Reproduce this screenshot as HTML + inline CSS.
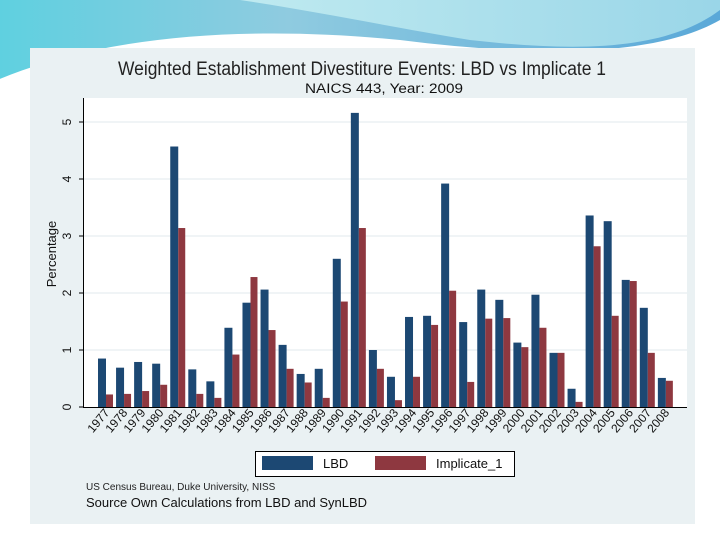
<!DOCTYPE html>
<html><head><meta charset="utf-8"><style>
body{margin:0;width:720px;height:540px;overflow:hidden;background:#fff;font-family:"Liberation Sans",sans-serif}
</style></head><body>
<svg width="720" height="540" xmlns="http://www.w3.org/2000/svg">
<defs>
<linearGradient id="sw" x1="0" y1="0" x2="1" y2="0"><stop offset="0" stop-color="#5fd0e0"/><stop offset="0.4" stop-color="#8fcbe0"/><stop offset="1" stop-color="#5aa8d8"/></linearGradient>
<linearGradient id="sw2" x1="0" y1="0" x2="1" y2="0"><stop offset="0" stop-color="#bfeaf0"/><stop offset="1" stop-color="#9ad6e8"/></linearGradient>
</defs>
<g>
<path d="M0 0 H720 V20 C650 60 520 55 400 40 C250 25 100 35 0 80 Z" fill="url(#sw)"/>
<path d="M240 0 H720 V10 C660 55 560 50 470 40 C380 25 320 12 240 0 Z" fill="url(#sw2)"/>
<path d="M0 80 C60 55 120 45 200 45" stroke="#fff" stroke-width="2" fill="none"/>
</g>
<rect x="30" y="48" width="665" height="476" fill="#eaf1f3"/>
<text x="118" y="75" font-size="19" textLength="488" lengthAdjust="spacingAndGlyphs" fill="#222">Weighted Establishment Divestiture Events: LBD vs Implicate 1</text>
<text x="305" y="93" font-size="13.5" textLength="158" lengthAdjust="spacingAndGlyphs" fill="#111">NAICS 443, Year: 2009</text>
<rect x="84" y="98" width="603" height="309" fill="#fff"/>
<g id="grid"></g>
<g id="bars"></g>
<line x1="83.5" y1="98" x2="83.5" y2="407" stroke="#000"/>
<line x1="83" y1="407.5" x2="687" y2="407.5" stroke="#000"/>
<g id="yticks"></g>
<g id="xticks"></g>
<text transform="translate(56,254) rotate(-90)" font-size="13" text-anchor="middle" fill="#111">Percentage</text>
<g>
<rect x="255.5" y="451.5" width="259" height="25" fill="#fff" stroke="#000"/>
<rect x="262" y="456" width="51" height="14" fill="#1c4873"/>
<text x="323" y="468" font-size="13" fill="#111">LBD</text>
<rect x="375" y="456" width="51" height="14" fill="#8e3840"/>
<text x="436" y="468" font-size="13" fill="#111">Implicate_1</text>
</g>
<text x="86" y="490" font-size="10" fill="#222">US Census Bureau, Duke University, NISS</text>
<text x="86" y="507" font-size="13" fill="#111">Source Own Calculations from LBD and SynLBD</text>
</svg>
<script>
const years=[1977,1978,1979,1980,1981,1982,1983,1984,1985,1986,1987,1988,1989,1990,1991,1992,1993,1994,1995,1996,1997,1998,1999,2000,2001,2002,2003,2004,2005,2006,2007,2008];
const lbd=[0.85,0.69,0.79,0.76,4.57,0.66,0.45,1.39,1.83,2.06,1.09,0.58,0.67,2.6,5.16,1.0,0.53,1.58,1.6,3.92,1.49,2.06,1.88,1.13,1.97,0.95,0.32,3.36,3.26,2.23,1.74,0.51];
const imp=[0.22,0.23,0.28,0.39,3.14,0.23,0.16,0.92,2.28,1.35,0.67,0.43,0.16,1.85,3.14,0.67,0.12,0.53,1.44,2.04,0.44,1.55,1.56,1.05,1.39,0.95,0.09,2.82,1.6,2.21,0.95,0.46];
const yTicks=[0,1,2,3,4,5];
const NS='http://www.w3.org/2000/svg';
const y=v=>407-v*57;
const x=i=>98+i*18.06;
function mk(t,a,p){const e=document.createElementNS(NS,t);for(const k in a)e.setAttribute(k,a[k]);p.appendChild(e);return e;}
const g=document.getElementById('grid'),yt=document.getElementById('yticks'),b=document.getElementById('bars'),xt=document.getElementById('xticks');
yTicks.forEach(v=>{
 if(v>0){const l=mk('line',{x1:84,x2:687,y1:y(v),y2:y(v),stroke:'#e6eef0','stroke-width':1.2},g);
 
 }
 const tk=mk('line',{x1:79,x2:83,y1:y(v),y2:y(v),stroke:'#000'},yt);
 
 
 const t=mk('text',{transform:`translate(71,${y(v)}) rotate(-90)`,'font-size':12,'text-anchor':'middle',fill:'#111'},yt);
 t.textContent=v;
 
 
});
years.forEach((yr,i)=>{
 const r1=mk('rect',{x:x(i),y:y(lbd[i]),width:8,height:lbd[i]*57,fill:'#1c4873'},b);
 
 
 const r2=mk('rect',{x:x(i)+8,y:y(imp[i]),width:7,height:imp[i]*57,fill:'#8e3840'},b);
 
 
 const cx=x(i)+8;
 const t=mk('text',{transform:`translate(${cx+4},${413}) rotate(-50)`,'font-size':12,'text-anchor':'end',fill:'#111'},xt);
 t.textContent=yr;
 
 
});
</script>
</body></html>
